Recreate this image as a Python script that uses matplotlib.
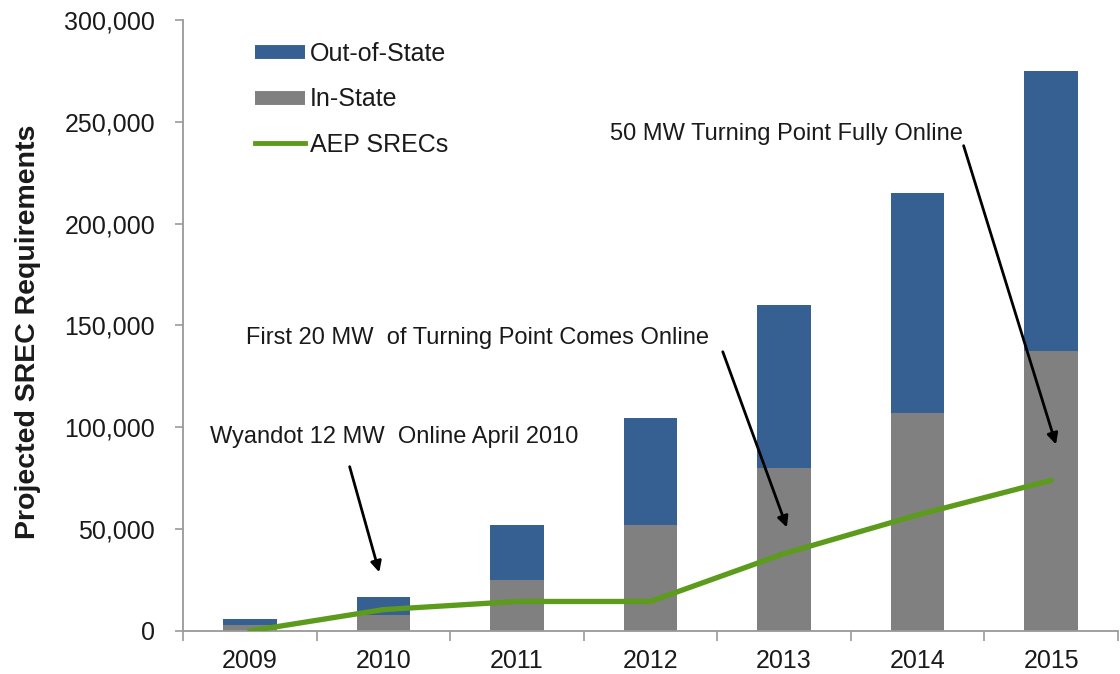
import matplotlib
matplotlib.use("Agg")
import matplotlib.pyplot as plt
from matplotlib.lines import Line2D
import numpy as np

years = ["2009", "2010", "2011", "2012", "2013", "2014", "2015"]
in_state = [3000, 8000, 25000, 52000, 80000, 107000, 137500]
out_state = [3000, 8500, 27000, 52500, 80000, 108000, 137500]
aep_srecs = [0, 10500, 14500, 14500, 38000, 57000, 74000]
yticks = [0, 50000, 100000, 150000, 200000, 250000, 300000]

plt.rcParams['font.family'] = ['Liberation Sans', 'DejaVu Sans']

BLUE = "#365F92"
GRAY = "#808080"
GREEN = "#5C9B1C"
TXT = "#1a1a1a"

fig = plt.figure(figsize=(11.2, 6.74), dpi=100)
ax = fig.add_axes([183/1120, 1-631/674, (1118-183)/1120, (631-20)/674])

x = np.arange(len(years))
w = 0.4
ax.bar(x, in_state, w, color=GRAY, zorder=2)
ax.bar(x, out_state, w, bottom=in_state, color=BLUE, zorder=2)
ax.plot(x, aep_srecs, color=GREEN, lw=3.8, zorder=3, solid_capstyle='round')

ax.set_xlim(-0.5, len(years) - 0.5)
ax.set_ylim(0, 300000)
ax.set_yticks(yticks)
ax.set_yticklabels([f"{v:,}" for v in yticks], fontsize=18, color=TXT)
ax.set_xticks(x)
ax.set_xticklabels(years, fontsize=18, color=TXT)
ax.set_xticks(np.arange(-0.5, len(years)), minor=True)
ax.tick_params(axis='x', which='major', length=0, pad=13)
ax.tick_params(axis='x', which='minor', length=7, color="#999999", width=1.2)
ax.tick_params(axis='y', length=6, color="#999999", width=1.2, pad=14)

for s in ["top", "right"]:
    ax.spines[s].set_visible(False)
for s in ["left", "bottom"]:
    ax.spines[s].set_color("#999999")
    ax.spines[s].set_linewidth(1.3)

ax.set_ylabel("Projected SREC Requirements", fontsize=20.5, fontweight='bold', color=TXT)
ax.yaxis.set_label_coords(-0.152, 0.49)

handles = [Line2D([0], [0], color=BLUE, lw=10, solid_capstyle='butt'),
           Line2D([0], [0], color=GRAY, lw=10, solid_capstyle='butt'),
           Line2D([0], [0], color=GREEN, lw=3.5)]
ax.legend(handles, ["Out-of-State", "In-State", "AEP SRECs"], loc='upper left',
          bbox_to_anchor=(0.066, 0.98), frameon=False, fontsize=18,
          handlelength=2.0, handletextpad=0.2, labelspacing=0.85,
          borderaxespad=0.0, labelcolor=TXT)

arrow = dict(arrowstyle='-|>', color='black', lw=2.0, mutation_scale=16)
ax.annotate('', xy=(0.975, 27500), xytext=(0.742, 82000), arrowprops=arrow)
ax.annotate('', xy=(4.028, 49600), xytext=(3.534, 138400), arrowprops=arrow)
ax.annotate('', xy=(6.042, 90300), xytext=(5.338, 239600), arrowprops=arrow)

ax.text(-0.298, 95200, "Wyandot 12 MW  Online April 2010", fontsize=17, va='center', ha='left', color=TXT)
ax.text(-0.028, 143800, "First 20 MW  of Turning Point Comes Online", fontsize=17, va='center', ha='left', color=TXT)
ax.text(2.696, 244000, "50 MW Turning Point Fully Online", fontsize=17, va='center', ha='left', color=TXT)

fig.savefig("out.png", dpi=100)
